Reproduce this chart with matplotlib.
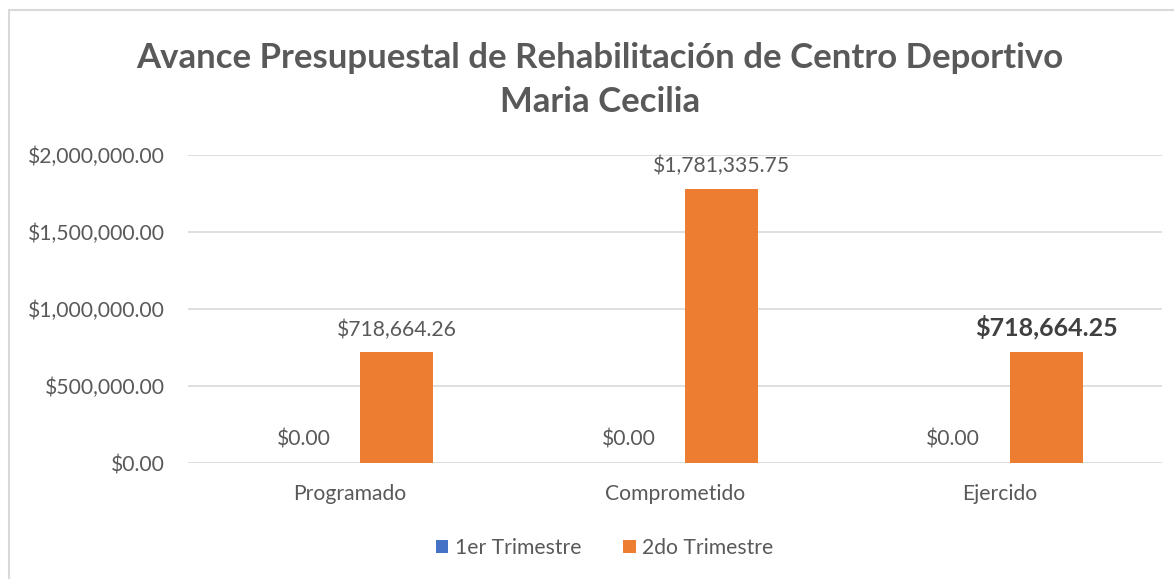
import matplotlib
matplotlib.use("Agg")
import matplotlib.pyplot as plt
import numpy as np
from matplotlib.patches import Rectangle
from matplotlib.ticker import FuncFormatter

categories = ["Programado", "Comprometido", "Ejercido"]
series_names = ["1er Trimestre", "2do Trimestre"]
trim1 = [0.00, 0.00, 0.00]
trim2 = [718664.26, 1781335.75, 718664.25]
colors = ["#4472C4", "#ED7D31"]

plt.rcParams["font.family"] = ["Lato", "DejaVu Sans"]
TXT = "#595959"
FS = 15.2

fig = plt.figure(figsize=(11.74, 5.79), dpi=100)
ax = fig.add_axes([0.160, 0.2003, 0.8298, 0.532])

x = np.arange(len(categories))
w = 0.225
off = 0.143
b1 = ax.bar(x - off, trim1, w, color=colors[0], label=series_names[0])
b2 = ax.bar(x + off, trim2, w, color=colors[1], label=series_names[1])

money = lambda v: f"${v:,.2f}"
for rect, v in zip(b1, trim1):
    ax.annotate(money(v), (rect.get_x() + rect.get_width() / 2, v),
                xytext=(0, 10), textcoords="offset points", ha="center", va="bottom",
                fontsize=FS, color=TXT)
for i, (rect, v) in enumerate(zip(b2, trim2)):
    bold = i == len(trim2) - 1
    ax.annotate(money(v), (rect.get_x() + rect.get_width() / 2, v),
                xytext=(0, 9), textcoords="offset points", ha="center", va="bottom",
                fontsize=18 if bold else FS, fontweight="bold" if bold else "normal",
                color="#404040" if bold else TXT)

ax.set_xlim(-0.5, len(categories) - 0.5)
ax.set_ylim(0, 2000000)
ax.set_yticks(np.arange(0, 2000001, 500000))
ax.yaxis.set_major_formatter(FuncFormatter(lambda v, p: money(v)))
ax.set_xticks(x)
ax.set_xticklabels(categories)
ax.tick_params(axis="both", length=0, labelsize=FS, labelcolor=TXT)
ax.tick_params(axis="y", pad=16.5)
ax.tick_params(axis="x", pad=15)
ax.grid(axis="y", color="#D9D9D9", linewidth=1.2)
ax.set_axisbelow(True)
for s in ax.spines.values():
    s.set_visible(False)

fig.text(0.511, 0.862, "Avance Presupuestal de Rehabilitación de Centro Deportivo\nMaria Cecilia",
         ha="center", va="center", fontsize=25, fontweight="bold", color=TXT, linespacing=1.45)

leg = fig.legend(loc="center", bbox_to_anchor=(0.515, 0.054), ncol=2, frameon=False,
                 fontsize=FS, handlelength=0.6, handleheight=0.6, handletextpad=0.3,
                 columnspacing=2.0)
for t in leg.get_texts():
    t.set_color(TXT)

fig.patches.append(Rectangle((9 / 1174, -0.1), 1.2, 1 - 10 / 579 + 0.1, transform=fig.transFigure,
                             fill=False, edgecolor="#D9D9D9", linewidth=1.5))

fig.savefig("out.png", dpi=100, facecolor="white")
